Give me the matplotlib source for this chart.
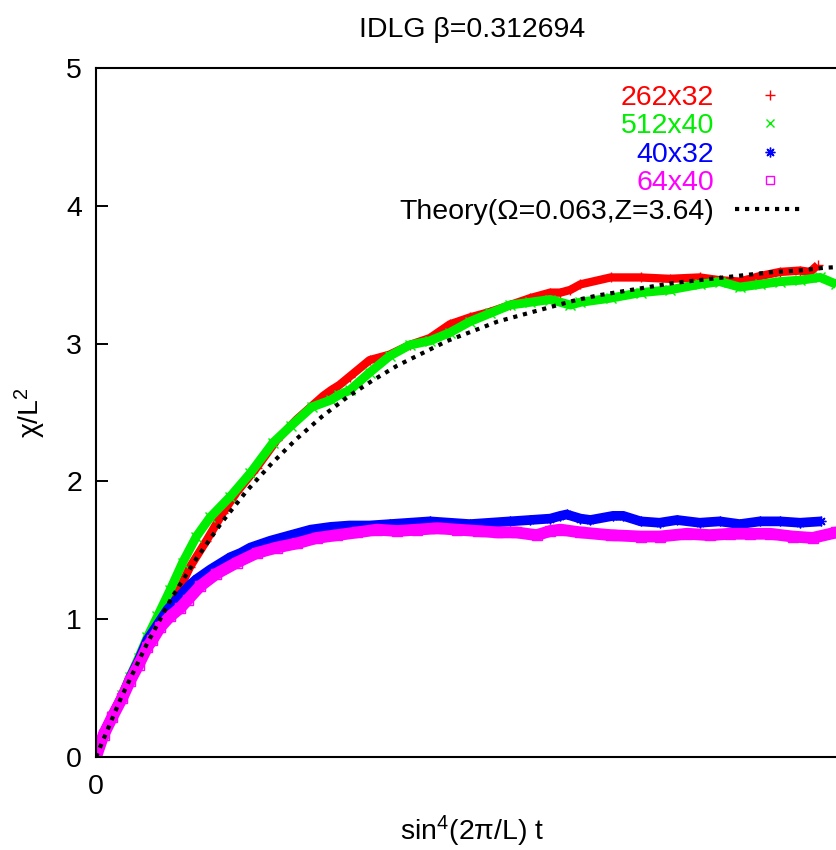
import matplotlib
matplotlib.use("Agg")
import matplotlib.pyplot as plt
from matplotlib.lines import Line2D

plt.rcParams['font.family'] = ['Liberation Sans', 'DejaVu Sans']
plt.rcParams['mathtext.fontset'] = 'custom'
plt.rcParams['mathtext.rm'] = 'Liberation Sans'
plt.rcParams['mathtext.it'] = 'Liberation Sans:italic'

# values (x in units of sin^4(2pi/L) t)
red_t = [0, 0.6, 1.3, 2.1, 2.7, 3.4, 4.1, 4.9, 5.3, 6.5, 7.5, 8.8, 10.1, 11.2, 12.8,
         14.4, 16.0, 18.1, 18.7, 19.4, 20.2, 21.8, 23.4, 25.0, 26.6, 28.2, 29.8, 31.4,
         33.0, 34.6, 36.2, 37.0, 37.8, 38.6, 41.0, 43.4, 45.7, 48.1, 49.7, 51.3, 52.9,
         54.5, 56.1, 56.9, 57.5]
red_y = [0, 0.17, 0.30, 0.44, 0.57, 0.70, 0.84, 0.97, 1.02, 1.19, 1.38, 1.57, 1.77, 1.92, 2.10,
         2.30, 2.45, 2.62, 2.66, 2.70, 2.76, 2.88, 2.92, 2.99, 3.04, 3.14, 3.19, 3.23,
         3.28, 3.33, 3.37, 3.37, 3.39, 3.43, 3.48, 3.48, 3.47, 3.48, 3.46, 3.45, 3.49,
         3.52, 3.53, 3.52, 3.57]

green_t = [0, 0.6, 1.3, 2.1, 2.7, 3.4, 4.1, 4.9, 5.9, 6.9, 8.0, 9.1, 10.7, 12.3, 14.1,
           15.5, 17.2, 18.7, 19.4, 20.2, 21.8, 23.4, 25.0, 26.6, 28.2, 29.8, 31.4, 33.0,
           34.6, 36.2, 37.8, 38.6, 41.0, 43.4, 45.7, 48.1, 49.7, 51.3, 52.9, 54.5, 56.1,
           57.7, 59.0]
green_y = [0, 0.17, 0.30, 0.45, 0.58, 0.72, 0.87, 1.02, 1.21, 1.41, 1.60, 1.74, 1.89, 2.06, 2.28,
           2.40, 2.54, 2.59, 2.63, 2.66, 2.79, 2.91, 2.99, 3.02, 3.08, 3.16, 3.22, 3.28,
           3.30, 3.32, 3.28, 3.30, 3.33, 3.37, 3.39, 3.43, 3.45, 3.41, 3.43, 3.45, 3.46,
           3.48, 3.43]

blue_t = [0, 0.6, 1.3, 2.1, 2.7, 3.4, 4.1, 5.7, 6.7, 7.5, 8.0, 9.1, 10.7, 11.5, 12.3,
          13.9, 15.5, 17.1, 18.7, 20.2, 21.8, 23.4, 25.0, 26.6, 28.2, 29.8, 31.4, 33.0,
          34.6, 36.2, 37.0, 37.5, 38.6, 39.4, 41.2, 42.0, 43.4, 44.9, 46.3, 48.1, 49.7,
          51.3, 52.9, 54.5, 56.1, 57.8]
blue_y = [0, 0.17, 0.30, 0.44, 0.57, 0.70, 0.85, 1.07, 1.17, 1.25, 1.29, 1.36, 1.45, 1.48, 1.52,
          1.57, 1.61, 1.65, 1.67, 1.68, 1.68, 1.69, 1.70, 1.71, 1.70, 1.69, 1.70, 1.71,
          1.72, 1.73, 1.75, 1.76, 1.73, 1.72, 1.75, 1.75, 1.71, 1.70, 1.72, 1.70, 1.71,
          1.69, 1.71, 1.71, 1.70, 1.71]

magenta_t = [0, 0.6, 1.3, 2.1, 2.7, 3.4, 4.1, 4.5, 5.1, 5.9, 6.7, 7.3, 8.3, 9.6, 11.2,
             12.8, 14.4, 16.0, 17.6, 19.2, 20.8, 22.4, 24.0, 25.6, 27.2, 28.8, 30.4, 32.0,
             33.5, 35.1, 36.2, 37.0, 38.6, 41.0, 43.4, 44.9, 47.1, 48.9, 50.5, 52.1, 53.7,
             55.5, 57.1, 59.0, 60.0]
magenta_y = [0, 0.16, 0.29, 0.43, 0.55, 0.67, 0.80, 0.85, 0.94, 1.02, 1.08, 1.14, 1.24, 1.33, 1.41,
             1.48, 1.52, 1.55, 1.59, 1.61, 1.63, 1.65, 1.64, 1.65, 1.66, 1.65, 1.64, 1.63,
             1.63, 1.61, 1.64, 1.65, 1.63, 1.61, 1.60, 1.60, 1.62, 1.61, 1.62, 1.62, 1.62,
             1.60, 1.59, 1.63, 1.62]

theory_t = list(range(0, 62, 2))
theory_y = [0, 0.43, 0.81, 1.15, 1.44, 1.70, 1.93, 2.13, 2.31, 2.47, 2.61, 2.73, 2.84,
            2.93, 3.02, 3.09, 3.16, 3.21, 3.26, 3.31, 3.35, 3.38, 3.41, 3.44, 3.46,
            3.48, 3.50, 3.52, 3.53, 3.55, 3.56]

labels = ["262x32", "512x40", "40x32", "64x40", "Theory(Ω=0.063,Z=3.64)"]
colors = ["#ff0000", "#00ee00", "#0000ff", "#ff00ff", "black"]

fig = plt.figure(figsize=(8.36, 8.5), dpi=100)
ax = fig.add_axes([0.1148, 0.1094, 0.9008, 0.8106])

series = [(red_t, red_y, "+", 6), (green_t, green_y, "x", 6.5),
          (blue_t, blue_y, (8, 2, 0), 7), (magenta_t, magenta_y, "s", 8.5)]
for (t, y, m, lw), c in zip(series, colors):
    ax.plot(t, y, color=c, lw=lw, marker=m, ms=7, mew=1, mfc="none",
            solid_capstyle="butt", solid_joinstyle="round")

ax.plot(theory_t, theory_y, color="black", lw=3, linestyle=(0, (1, 1.4)))

ax.set_xlim(0, 60)
ax.set_ylim(0, 5)
ax.set_xticks([0])
ax.set_yticks([0, 1, 2, 3, 4, 5])
ax.tick_params(direction="in", length=8.6, width=1.4, labelsize=20.5,
               top=True, right=True)
ax.tick_params(axis="y", pad=10)
ax.tick_params(axis="x", pad=12)
for s in ax.spines.values():
    s.set_linewidth(1.5)

ax.set_title("IDLG β=0.312694", fontsize=20.5, pad=22)
ax.set_xlabel("sin$^{4}$(2π/L) t", fontsize=20.5, labelpad=10)
ax.set_ylabel("χ/L$^{2}$", fontsize=20.5, labelpad=13)

handles = [Line2D([], [], color=colors[0], ls="none", marker="+", ms=7, mew=1),
           Line2D([], [], color=colors[1], ls="none", marker="x", ms=6, mew=1),
           Line2D([], [], color=colors[2], ls="none", marker=(8, 2, 0), ms=7, mew=1),
           Line2D([], [], color=colors[3], ls="none", marker="s", ms=6, mew=1, mfc="none"),
           Line2D([], [], color="black", lw=3, linestyle=(0, (1, 1.4)))]
leg = ax.legend(handles, labels, loc="upper right", bbox_to_anchor=(0.9416, 0.976),
                frameon=False, markerfirst=False, fontsize=20.5, handlelength=2.45,
                handletextpad=0.74, labelspacing=0.09, borderpad=0, borderaxespad=0,
                numpoints=1)
for txt, c in zip(leg.get_texts(), colors):
    txt.set_color(c)

fig.savefig("out.png", dpi=100)
